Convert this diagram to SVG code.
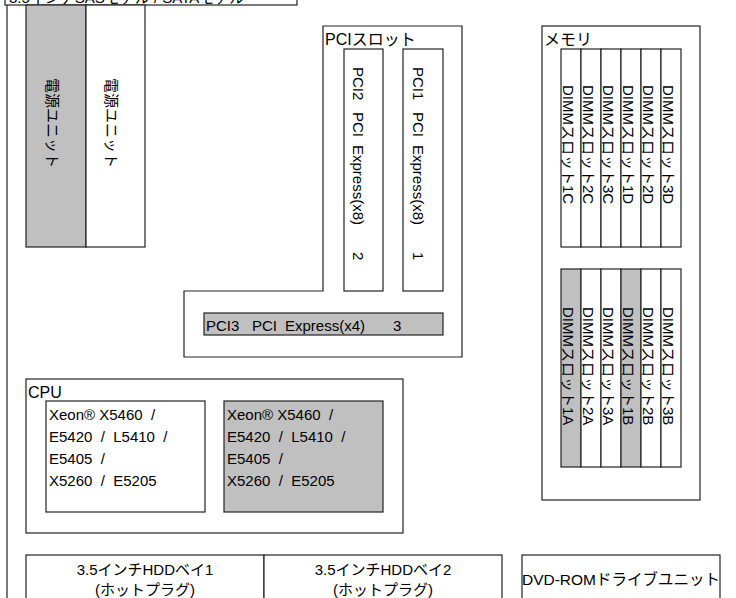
<svg xmlns="http://www.w3.org/2000/svg" width="736" height="598" viewBox="0 0 736 598">
<style>
.b{fill:#fff;stroke:#222;stroke-width:1.2}
.g{fill:#c0c0c0;stroke:#222;stroke-width:1.2}
.f{fill:none;stroke:#222;stroke-width:1.2}
text{font-family:"Liberation Sans","Noto Sans CJK JP",sans-serif;font-size:15px;fill:#000}
.l{font-size:16px}
.c{text-anchor:middle}
</style>
<rect width="736" height="598" fill="#fff"/>
<g id="frame">
<line class="f" x1="7" y1="5" x2="7" y2="600"/>
<rect class="b" x="5" y="-15" width="292" height="20"/>
<text x="9" y="3">3.5インチSASモデル / SATAモデル</text>
</g>
<g id="psu1">
<rect class="g" x="26" y="5" width="60" height="242"/>
<text transform="translate(47,78) rotate(90)">電源ユニット</text>
</g>
<g id="psu2">
<rect class="b" x="86" y="5" width="59" height="242"/>
<text transform="translate(106,78) rotate(90)">電源ユニット</text>
</g>
<g id="pci">
<polygon class="b" points="323,26 462,26 462,357 184,357 184,291 323,291"/>
<text class="l" x="325" y="45">PCIスロット</text>
</g>
<g id="pci2">
<rect class="b" x="344" y="49" width="39" height="242"/>
<text transform="translate(353,67) rotate(90)"><tspan x="0">PCI2</tspan><tspan x="45">PCI</tspan><tspan x="78">Express(x8)</tspan><tspan x="185">2</tspan></text>
</g>
<g id="pci1">
<rect class="b" x="403" y="49" width="40" height="242"/>
<text transform="translate(413,67) rotate(90)"><tspan x="0">PCI1</tspan><tspan x="45">PCI</tspan><tspan x="78">Express(x8)</tspan><tspan x="185">1</tspan></text>
</g>
<g id="pci3">
<rect class="g" x="204" y="313" width="239" height="22"/>
<text y="331"><tspan x="206">PCI3</tspan><tspan x="252">PCI</tspan><tspan x="285">Express(x4)</tspan><tspan x="393">3</tspan></text>
</g>
<g id="memory">
<rect class="b" x="542" y="26" width="158" height="474"/>
<text class="l" x="544" y="45">メモリ</text>
</g>
<g id="dimm-upper">
<rect class="b" x="561" y="49" width="20" height="198"/>
<rect class="b" x="581" y="49" width="20" height="198"/>
<rect class="b" x="601" y="49" width="20" height="198"/>
<rect class="b" x="621" y="49" width="20" height="198"/>
<rect class="b" x="641" y="49" width="20" height="198"/>
<rect class="b" x="661" y="49" width="20" height="198"/>
<text transform="translate(563,85) rotate(90)">DIMMスロット1C</text>
<text transform="translate(583,85) rotate(90)">DIMMスロット2C</text>
<text transform="translate(603,85) rotate(90)">DIMMスロット3C</text>
<text transform="translate(623,85) rotate(90)">DIMMスロット1D</text>
<text transform="translate(643,85) rotate(90)">DIMMスロット2D</text>
<text transform="translate(663,85) rotate(90)">DIMMスロット3D</text>
</g>
<g id="dimm-lower">
<rect class="g" x="561" y="269" width="20" height="198"/>
<rect class="b" x="581" y="269" width="20" height="198"/>
<rect class="b" x="601" y="269" width="20" height="198"/>
<rect class="g" x="621" y="269" width="20" height="198"/>
<rect class="b" x="641" y="269" width="20" height="198"/>
<rect class="b" x="661" y="269" width="20" height="198"/>
<text transform="translate(563,307) rotate(90)">DIMMスロット1A</text>
<text transform="translate(583,307) rotate(90)">DIMMスロット2A</text>
<text transform="translate(603,307) rotate(90)">DIMMスロット3A</text>
<text transform="translate(623,307) rotate(90)">DIMMスロット1B</text>
<text transform="translate(643,307) rotate(90)">DIMMスロット2B</text>
<text transform="translate(663,307) rotate(90)">DIMMスロット3B</text>
</g>
<g id="cpu">
<rect class="b" x="26" y="379" width="377" height="154"/>
<text class="l" x="28" y="398">CPU</text>
</g>
<g id="cpu1">
<rect class="b" x="46" y="401" width="159" height="111"/>
<text xml:space="preserve" x="49" y="420">Xeon® X5460  /</text>
<text xml:space="preserve" x="49" y="442">E5420  /  L5410  /</text>
<text xml:space="preserve" x="49" y="464">E5405  /</text>
<text xml:space="preserve" x="49" y="486">X5260  /  E5205</text>
</g>
<g id="cpu2">
<rect class="g" x="224" y="401" width="159" height="111"/>
<text xml:space="preserve" x="227" y="420">Xeon® X5460  /</text>
<text xml:space="preserve" x="227" y="442">E5420  /  L5410  /</text>
<text xml:space="preserve" x="227" y="464">E5405  /</text>
<text xml:space="preserve" x="227" y="486">X5260  /  E5205</text>
</g>
<g id="hdd1">
<rect class="b" x="26" y="555" width="238" height="60"/>
<text class="c" x="145" y="575">3.5インチHDDベイ1</text>
<text class="c" x="145" y="595">(ホットプラグ)</text>
</g>
<g id="hdd2">
<rect class="b" x="264" y="555" width="238" height="60"/>
<text class="c" x="383" y="575">3.5インチHDDベイ2</text>
<text class="c" x="383" y="595">(ホットプラグ)</text>
</g>
<g id="dvd">
<rect class="b" x="522" y="555" width="198" height="60"/>
<text class="c" x="621" y="585" style="font-size:15.5px">DVD-ROMドライブユニット</text>
</g>
<g id="connectors"></g>
</svg>
